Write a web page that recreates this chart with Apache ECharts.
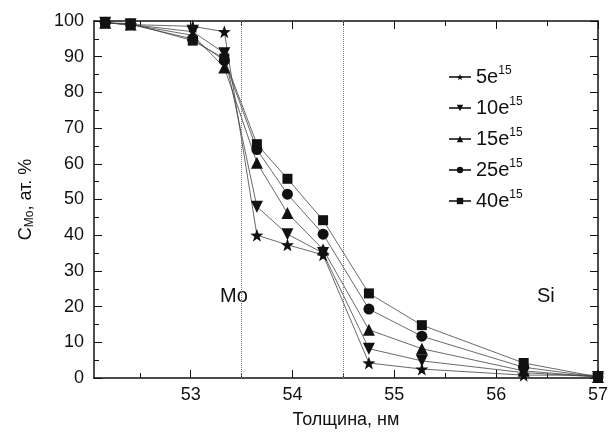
<!DOCTYPE html>
<html>
<head>
<meta charset="utf-8">
<script src="https://cdn.jsdelivr.net/npm/echarts@6/dist/echarts.min.js"></script>
<style>
  html, body { margin: 0; padding: 0; background: #fff; }
  #chart { width: 616px; height: 435px; }
</style>
</head>
<body>
<div id="chart"></div>
<script>
// толщина, нм
const thickness = [52.16, 52.41, 53.02, 53.33, 53.65, 53.95, 54.3, 54.75, 55.27, 56.27, 57.0];

const doses = ['5e15', '10e15', '15e15', '25e15', '40e15'];
const c5 = [99.5, 99, 98.5, 97, 40, 37.3, 34.5, 4.2, 2.5, 0.8, 0.8];
const c10 = [99.5, 99, 97, 91, 48, 40.3, 35, 8.2, 4.8, 1.5, 0.3];
const c15 = [99.5, 99, 96, 87, 60.3, 46.2, 36, 13.5, 8.2, 2, 0.3];
const c25 = [99.5, 99, 95, 89, 64, 51.5, 40.3, 19.3, 11.7, 3, 0.3];
const c40 = [99.5, 99.3, 94.5, 89.5, 65.5, 55.8, 44.2, 23.7, 14.8, 4.2, 0.3];

const xTicks = [53, 54, 55, 56, 57];
const xMinorTicks = [52.5, 53.5, 54.5, 55.5, 56.5];
const boundaries = [53.5, 54.5];

const star = 'path://M0,-10 L2.35,-3.24 L9.51,-3.09 L3.8,1.24 L5.88,8.09 L0,4 L-5.88,8.09 L-3.8,1.24 L-9.51,-3.09 L-2.35,-3.24 Z';

const font = 'Liberation Sans';
const xMin = 52.05, xMax = 57;

function mkSeries(name, vals, symbol, size, rotate) {
  return {
    name: name,
    type: 'line',
    data: thickness.map((x, i) => [x, vals[i]]),
    symbol: symbol,
    symbolSize: size,
    symbolRotate: rotate || 0,
    lineStyle: { color: '#444', width: 0.8 },
    itemStyle: { color: '#111' },
    z: 3
  };
}

const series = [
  mkSeries(doses[0], c5, star, 13),
  mkSeries(doses[1], c10, 'triangle', 12, 180),
  mkSeries(doses[2], c15, 'triangle', 12),
  mkSeries(doses[3], c25, 'circle', 11),
  mkSeries(doses[4], c40, 'rect', 10)
];

series[0].markLine = {
  silent: true,
  symbol: 'none',
  label: { show: false },
  lineStyle: { color: '#777', type: 'dotted', width: 1 },
  data: boundaries.map(v => ({ xAxis: v }))
};

function xAx(pos, ticks, len, showLine, showLabel) {
  return {
    type: 'value',
    position: pos,
    min: xMin,
    max: xMax,
    axisLine: { show: showLine, onZero: false, lineStyle: { color: '#111', width: 1.5 } },
    axisTick: { show: true, inside: true, length: len, customValues: ticks, lineStyle: { color: '#111' } },
    axisLabel: {
      show: showLabel, customValues: ticks,
      fontFamily: font, fontSize: 18, color: '#111', margin: 8
    },
    splitLine: { show: false }
  };
}

const bottom = xAx('bottom', xTicks, 8, true, true);
bottom.name = 'Толщина, нм';
bottom.nameLocation = 'middle';
bottom.nameGap = 33;
bottom.nameTextStyle = { fontFamily: font, fontSize: 18, color: '#111' };

const chart = echarts.init(document.getElementById('chart'));
chart.setOption({
  animation: false,
  grid: { left: 94, right: 18, top: 21, bottom: 57 },
  legend: {
    orient: 'vertical',
    left: 443,
    top: 60,
    itemGap: 9,
    itemWidth: 22,
    itemHeight: 8,
    data: doses,
    formatter: name => '{b|' + name.replace('e15', 'e') + '}{s|15}',
    textStyle: {
      rich: {
        b: { fontFamily: font, fontSize: 20, color: '#111' },
        s: { fontFamily: font, fontSize: 12, color: '#111', verticalAlign: 'top', padding: [0, 0, 12, 0] }
      }
    }
  },
  xAxis: [
    bottom,
    xAx('top', xTicks, 8, true, false),
    xAx('bottom', xMinorTicks, 5, false, false),
    xAx('top', xMinorTicks, 5, false, false)
  ],
  yAxis: [{
    type: 'value',
    min: 0,
    max: 100,
    interval: 10,
    name: '{a|C}{sub|Mo}{a|, ат. %}',
    nameLocation: 'middle',
    nameGap: 58,
    nameTextStyle: {
      rich: {
        a: { fontFamily: font, fontSize: 18, color: '#111' },
        sub: { fontFamily: font, fontSize: 12, color: '#111', verticalAlign: 'bottom', padding: [8, 0, 0, 0] }
      }
    },
    axisLine: { show: true, lineStyle: { color: '#111', width: 1.5 } },
    axisTick: { inside: true, length: 8, lineStyle: { color: '#111' } },
    minorTick: { show: true, splitNumber: 2, length: 5, lineStyle: { color: '#111' } },
    axisLabel: { fontFamily: font, fontSize: 18, color: '#111', margin: 10 },
    splitLine: { show: false }
  }, {
    type: 'value',
    position: 'right',
    min: 0,
    max: 100,
    interval: 10,
    axisLine: { show: true, lineStyle: { color: '#111', width: 1.5 } },
    axisTick: { inside: true, length: 8, lineStyle: { color: '#111' } },
    minorTick: { show: true, splitNumber: 2, length: 5, lineStyle: { color: '#111' } },
    axisLabel: { show: false },
    splitLine: { show: false }
  }],
  graphic: [
    { type: 'text', left: 220, top: 286, style: { text: 'Mo', font: '20px "Liberation Sans"', fill: '#111' } },
    { type: 'text', left: 537, top: 286, style: { text: 'Si', font: '20px "Liberation Sans"', fill: '#111' } }
  ],
  series: series
});
</script>
</body>
</html>
